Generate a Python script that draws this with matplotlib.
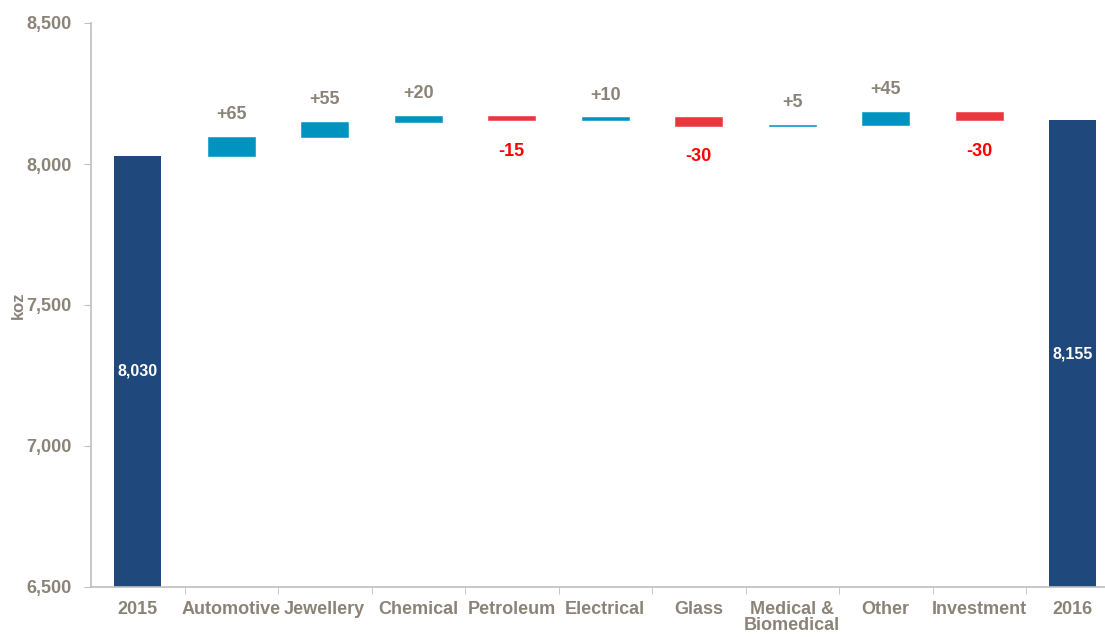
import numpy as np
import matplotlib
matplotlib.use('Agg')
import matplotlib.pyplot as plt
from matplotlib import font_manager
from matplotlib.ticker import FuncFormatter, FixedLocator


def pick_bold_family(candidates):
    """Devuelve la primera familia que tenga una variante negrita real."""
    for fam in candidates:
        try:
            path = font_manager.findfont(
                font_manager.FontProperties(family=fam, weight='bold'),
                fallback_to_default=False)
        except Exception:
            continue
        if 'bold' in path.lower():
            return fam
    return 'DejaVu Sans'


FAMILY = pick_bold_family(['Liberation Sans', 'Arimo', 'Roboto', 'Noto Sans'])
plt.rcParams.update({
    'font.family': [FAMILY, 'DejaVu Sans'],
    'font.weight': 'bold',
    'font.size': 13,
})

# ── Datos ────────────────────────────────────────────────────────────────────
categories = ['2015', 'Automotive', 'Jewellery', 'Chemical', 'Petroleum',
              'Electrical', 'Glass', 'Medical &\nBiomedical', 'Other',
              'Investment', '2016']
start_total = 8030
changes = [65, 55, 20, -15, 10, -30, 5, 45, -30]
end_total = 8155
y_ticks = [6500, 7000, 7500, 8000, 8500]

COLORS = {
    'total': '#1F497C',
    'up': '#0093C0',
    'down': '#E8383D',
    'text': '#8B8378',
    'neg_text': '#FF0000',
    'axis': '#BFBFBF',
}

W, H = 1105, 637
fig = plt.figure(figsize=(W / 100, H / 100), dpi=100)
step = 93.5
ax = fig.add_axes([91 / W, (H - 587) / H, (W - 91) / W, 564 / H])

y_min = y_ticks[0]
x = np.arange(len(categories))
bw = 0.5

# Totales
for xi, val in [(x[0], start_total), (x[-1], end_total)]:
    ax.bar(xi, val - y_min, bottom=y_min, width=bw, color=COLORS['total'])
    ax.text(xi, (val + y_min) / 2, f'{val:,}', color='white', ha='center',
            va='center', fontsize=11.5, fontweight='bold')

# Variaciones
level = start_total
for i, d in enumerate(changes):
    xi = x[i + 1]
    if d >= 0:
        ax.bar(xi, d, bottom=level, width=bw, color=COLORS['up'],
               edgecolor=COLORS['up'], linewidth=0.4)
        ax.annotate(f'+{d}', xy=(xi, level + d), xytext=(0, 10),
                    textcoords='offset points', ha='center', va='bottom',
                    color=COLORS['text'], fontsize=13, fontweight='bold')
    else:
        ax.bar(xi, -d, bottom=level + d, width=bw, color=COLORS['down'],
               edgecolor=COLORS['down'], linewidth=0.4)
        ax.annotate(f'{d}', xy=(xi, level + d), xytext=(0, -16),
                    textcoords='offset points', ha='center', va='top',
                    color=COLORS['neg_text'], fontsize=13, fontweight='bold')
    level += d

ax.set_xlim(-0.5, -0.5 + (W - 91) / step)
ax.set_ylim(y_ticks[0], y_ticks[-1])
ax.set_yticks(y_ticks)
ax.yaxis.set_major_formatter(FuncFormatter(lambda v, p: f'{int(v):,}'))

ax.set_xticks(x)
ax.set_xticklabels(categories, linespacing=0.95)
ax.xaxis.set_minor_locator(FixedLocator(x[:-1] + 0.5))
ax.tick_params(axis='x', which='major', length=0, pad=10,
               colors=COLORS['text'], labelsize=13)
ax.tick_params(axis='x', which='minor', length=5, color=COLORS['axis'],
               direction='out')
ax.tick_params(axis='y', length=5, color=COLORS['axis'],
               labelcolor=COLORS['text'], labelsize=13, pad=9)

for s in ['top', 'right']:
    ax.spines[s].set_visible(False)
for s in ['left', 'bottom']:
    ax.spines[s].set_color(COLORS['axis'])
    ax.spines[s].set_linewidth(1.2)

ax.set_ylabel('koz', color=COLORS['text'], fontsize=12, fontweight='bold')
ax.yaxis.set_label_coords(-0.064, 0.5)

fig.savefig('out.png', dpi=100)
